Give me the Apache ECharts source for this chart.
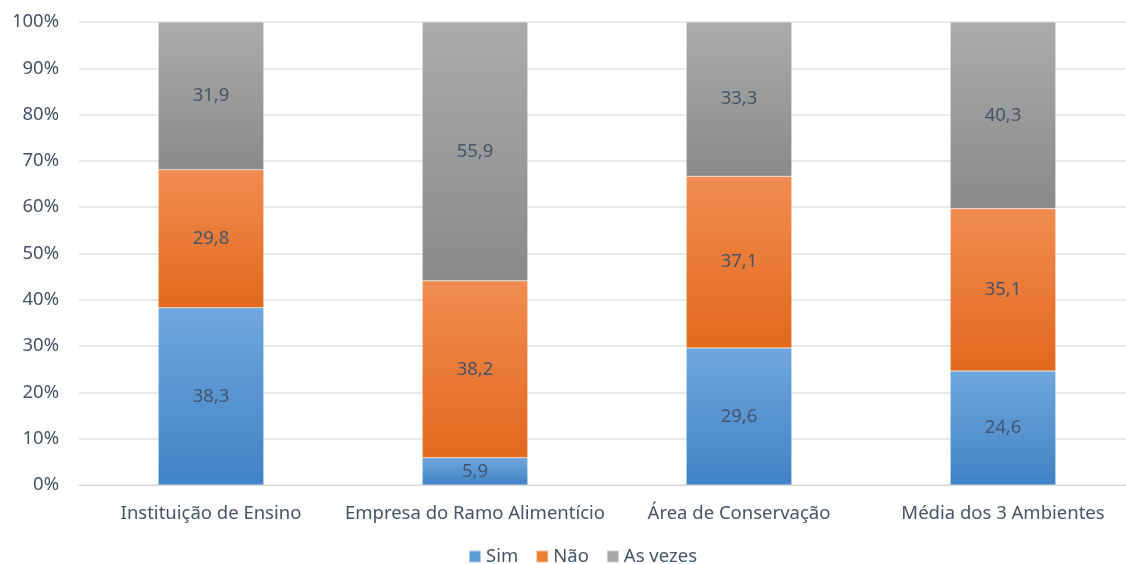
<!DOCTYPE html>
<html><head><meta charset="utf-8">
<script src="https://cdn.jsdelivr.net/npm/echarts@6/dist/echarts.min.js"></script>
<style>html,body{margin:0;padding:0;background:#fff}#c{width:1126px;height:564px}</style>
</head><body><div id="c"></div>
<script>
var categories = ['Instituição de Ensino', 'Empresa do Ramo Alimentício', 'Área de Conservação', 'Média dos 3 Ambientes'];
var sim = [38.3, 5.9, 29.6, 24.6];
var nao = [29.8, 38.2, 37.1, 35.1];
var asVezes = [31.9, 55.9, 33.3, 40.3];
var seriesNames = ['Sim', 'Não', 'As vezes'];

var txt = '#44546A';
var font = 'Noto Sans';
var fs = 18.5;
function grad(top, bottom) {
  return new echarts.graphic.LinearGradient(0, 0, 0, 1, [{offset: 0, color: top}, {offset: 1, color: bottom}]);
}
function mk(name, data, top, bottom) {
  return {
    name: name, type: 'bar', stack: 't', data: data, barWidth: '40%',
    itemStyle: {color: grad(top, bottom), borderColor: 'rgba(255,255,255,0.5)', borderWidth: 0.5},
    label: {show: true, position: 'inside', color: txt, fontSize: fs, fontFamily: font,
      formatter: function (p) { return String(p.value).replace('.', ','); }}
  };
}
var chart = echarts.init(document.getElementById('c'));
chart.setOption({
  animation: false,
  textStyle: {fontFamily: font},
  grid: {left: 79, width: 1056, top: 22, bottom: 79, outerBoundsMode: 'none', containLabel: false},
  legend: {
    bottom: -7, left: 463, itemWidth: 12, itemHeight: 12, itemGap: 17,
    icon: 'rect',
    textStyle: {color: txt, fontSize: fs, fontFamily: font},
    data: [
      {name: 'Sim', itemStyle: {color: '#5B9BD5'}},
      {name: 'Não', itemStyle: {color: '#ED7D31'}},
      {name: 'As vezes', itemStyle: {color: '#A5A5A5'}}
    ]
  },
  xAxis: {
    type: 'category', data: categories,
    axisLine: {show: true, lineStyle: {color: '#D9D9D9'}}, axisTick: {show: false},
    axisLabel: {color: txt, fontSize: fs, fontFamily: font, margin: 19, interval: 0}
  },
  yAxis: {
    type: 'value', min: 0, max: 100, interval: 10,
    axisLabel: {formatter: '{value}%', color: txt, fontSize: fs, fontFamily: font, margin: 20},
    splitLine: {lineStyle: {color: '#DDE1E6', width: 1.5}},
    axisLine: {show: false}, axisTick: {show: false}
  },
  series: [
    mk(seriesNames[0], sim, '#70A6DE', '#4083C6'),
    mk(seriesNames[1], nao, '#F28C52', '#E2691C'),
    mk(seriesNames[2], asVezes, '#ABABAB', '#8A8A8A')
  ]
});
</script></body></html>
